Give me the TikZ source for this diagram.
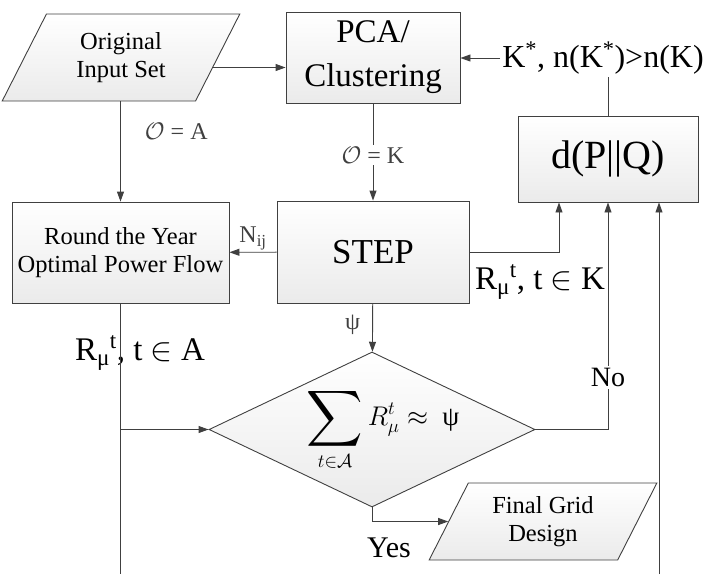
\documentclass[tikz,border=0pt]{standalone}
\usepackage{fix-cm}
\usepackage{amsmath,amssymb}
\usepackage{fontspec}
\setmainfont{Liberation Serif}
\usepackage{tikz}
\usetikzlibrary{positioning, arrows.meta, shapes.geometric, calc}

\begin{document}
\begin{tikzpicture}[
    x=1pt, y=-1pt,
    box/.style={rectangle, draw=black!75, line width=0.9pt, top color=white,
                bottom color=gray!16, align=center, inner sep=2pt},
    iobox/.style={trapezium, trapezium left angle=63, trapezium right angle=117,
                draw=black!75, line width=0.9pt, top color=white,
                bottom color=gray!16, align=center, inner sep=2pt,
                font=\fontsize{24.5}{28}\selectfont},
    arr/.style={-{Triangle[length=10pt, width=7pt]}, line width=0.9pt, black!75},
    ln/.style={line width=0.9pt, black!75},
    lbl/.style={font=\fontsize{24}{28}\selectfont, inner sep=2pt},
    biglbl/.style={font=\fontsize{33}{36}\selectfont, inner sep=2pt}
]
\useasboundingbox (0,0) rectangle (726,574);

\node[iobox, minimum width=208pt, minimum height=87pt] (input) at (121,57.5) {Original\\Input Set};
\node[box, minimum width=174pt, minimum height=91pt, font=\fontsize{33}{44}\selectfont] (pca) at (373,57.5) {PCA/\\Clustering};
\node[biglbl, font=\fontsize{32}{34}\selectfont] (kstar) at (603,58) {K\textsuperscript{*}, n(K\textsuperscript{*})>n(K)};
\node[box, minimum width=180pt, minimum height=86pt, font=\fontsize{40}{44}\selectfont] (dpq) at (608,159) {d(P||Q)};
\node[box, minimum width=217pt, minimum height=101pt, font=\fontsize{24.5}{28}\selectfont] (round) at (120.5,252.5) {Round the Year\\Optimal Power Flow};
\node[box, minimum width=192pt, minimum height=102pt, font=\fontsize{35}{40}\selectfont] (step) at (373,252) {STEP};
\node[diamond, draw=black!75, line width=0.9pt, top color=white, bottom color=gray!16,
      minimum width=326pt, minimum height=155pt, aspect=2.1, inner sep=0pt,
      font=\fontsize{27}{30}\selectfont] (dia) at (372,429.5)
      {\makebox[0pt][c]{\hspace*{22pt}$\displaystyle\mathop{\vcenter{\hbox{\scalebox{1.45}{$\displaystyle\sum$}}}}\limits_{t\in\mathcal{A}} R_{\mu}^{t} \approx \text{ ψ}$}};
\node[iobox, minimum width=213pt, minimum height=77pt] (final) at (543,521.5) {Final Grid\\Design};
\node[lbl, font=\fontsize{28}{32}\selectfont, fill=white] (no) at (608,377) {No};
\node[lbl, font=\fontsize{30}{32}\selectfont] (yes) at (389,548) {Yes};
\node[biglbl] (rk) at (540,282) {R\textsubscript{μ}\textsuperscript{t}, t $\in$ K};
\node[biglbl] (ra) at (140,353) {R\textsubscript{μ}\textsuperscript{t}, t $\in$ A};
\coordinate (leftend) at (round.south |- 0,574);
\coordinate (rightend) at (659,574);

\draw[arr] ([xshift=-5pt, yshift=-10pt]input.east) -- ([yshift=-10pt]pca.west);
\draw[arr] (kstar.west) -- (kstar.west -| pca.east);
\draw[ln] (dpq.north) -- (dpq.north |- kstar.south);
\draw[arr] (round.north |- input.south) -- (round.north) node[pos=0.3, right=22pt, lbl] {$\mathcal{O}$ = A};
\draw[arr] (pca) -- (step) node[pos=0.53, fill=white, lbl] {$\mathcal{O}$ = K};
\draw[arr] (step) -- (round) node[midway, above, lbl] {N\textsubscript{ij}};
\draw[arr] (step.east) -| ([xshift=-49pt]dpq.south);
\draw[arr] (step) -- (dia) node[pos=0.45, left=10pt, lbl] {ψ};
\draw[ln] (dia.east) -| (no.south);
\draw[arr] (no) -- (no |- dpq.south);
\draw[arr] (rightend) -- (rightend |- dpq.south);
\draw[ln] (round) -- (leftend);
\draw[arr] (leftend |- dia.west) -- (dia.west);
\draw[arr] (dia.south) |- (final.west);
\end{tikzpicture}
\end{document}
